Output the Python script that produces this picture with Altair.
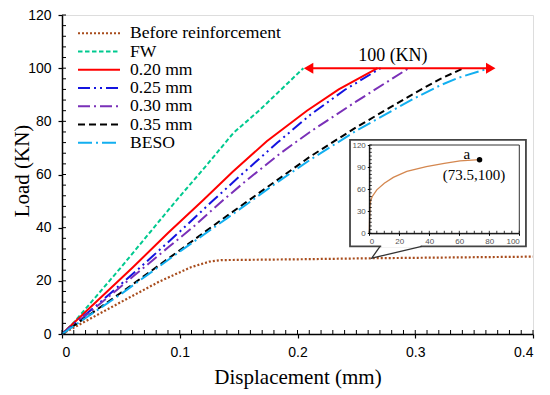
import altair as alt
import pandas as pd

W, H = 471, 319
SERIF = "Liberation Serif"
SANS = "Liberation Sans"

# ---- series data (displacement mm, load KN) ----
names = ["Before reinforcement", "FW", "0.20 mm", "0.25 mm", "0.30 mm", "0.35 mm", "BESO"]
colors = ["#a84c1c", "#00c98f", "#ff0000", "#1414e0", "#7a30b8", "#000000", "#12aff0"]
dashes = [[2, 2], [4.5, 2.5], None, [12, 4, 2, 4, 2, 4], [12, 4, 2, 4], [7, 4], [14, 4, 2, 4]]

before_x = [0, 0.03, 0.055, 0.083, 0.11, 0.125, 0.135, 0.2, 0.264, 0.4]
before_y = [0, 7.2, 13.2, 19.8, 25.2, 27.2, 27.8, 28.1, 28.5, 29.1]
fw_x = [0, 0.01, 0.05, 0.0974, 0.12, 0.1455, 0.168, 0.185, 0.205]
fw_y = [0, 4.3, 25, 50.4, 62, 75.6, 84.3, 91.5, 100]
r020_x = [0, 0.03, 0.06, 0.09, 0.12, 0.145, 0.1739, 0.208, 0.235, 0.268]
r020_y = [0, 12.5, 25, 38, 50.4, 61, 72.5, 84, 92, 100]
r025_x = [0, 0.03, 0.065, 0.1, 0.1287, 0.155, 0.183, 0.211, 0.24, 0.2706]
r025_y = [0, 11, 24.5, 38.5, 50.4, 61, 72, 82.5, 91.8, 100]
r030_x = [0, 0.03, 0.06, 0.09, 0.1115, 0.137, 0.157, 0.1855, 0.2106, 0.25, 0.2945]
r030_y = [0, 10.5, 21.5, 32.5, 40.3, 50.4, 57.9, 68, 76, 87.5, 100]
r035_x = [0, 0.05, 0.1, 0.134, 0.1827, 0.2106, 0.25, 0.299, 0.321, 0.341]
r035_y = [0, 15.5, 31.5, 42.5, 57.9, 66.7, 77.8, 90.5, 95.9, 100]
beso_x = [0, 0.05, 0.1, 0.14, 0.1855, 0.2106, 0.25, 0.299, 0.321, 0.336, 0.363]
beso_y = [0, 15, 31, 43.5, 57.9, 65.5, 76.5, 88.6, 93.5, 96.3, 100]

series_x = [before_x, fw_x, r020_x, r025_x, r030_x, r035_x, beso_x]
series_y = [before_y, fw_y, r020_y, r025_y, r030_y, r035_y, beso_y]

# axis ticks
x_major = [0, 0.1, 0.2, 0.3, 0.4]
y_major = [0, 20, 40, 60, 80, 100, 120]
x_minor = [round(i * 0.01, 2) for i in range(0, 41)]
y_minor = list(range(0, 121, 4))

# annotation: 100 KN arrow
arrow_y = 100
arrow_x = [0.2094, 0.3641]
arrow_label = "100 (KN)"
arrow_label_x, arrow_label_y = 0.281, 104.6

# inset callout box (in main data units)
box_x = [0.2446, 0.394]
box_y = [33.0, 73.0]
pointer_x = [0.2701, 0.263, 0.3055]
pointer_y = [33.0, 28.5, 33.0]

# inset data
inset_x = [0, 0.2, 0.5, 1, 2, 5, 10, 16, 25, 38, 50, 60.5, 73.5]
inset_y = [0, 20, 38, 45, 50, 59, 68, 76, 84, 90.5, 95, 98.5, 100]
inset_pt = (73.5, 100)
inset_xticks = [0, 20, 40, 60, 80, 100]
inset_yticks = [0, 30, 60, 90, 120]
inset_xminor = list(range(0, 101, 5))
inset_yminor = list(range(0, 121, 5))
INSET_XR = [307.3, 457.3]
INSET_YR = [218.3, 130.0]

xscale = alt.Scale(domain=[0, 0.4], nice=False, zero=False)
yscale = alt.Scale(domain=[0, 120], nice=False, zero=False)

x_axis = alt.Axis(values=x_major, format=".1~f", title="Displacement (mm)", tickSize=4,
                  labelFont=SANS, labelFontSize=14, labelPadding=7, labelColor="black",
                  titleFont=SERIF, titleFontSize=21, titleFontWeight="normal", titleColor="black",
                  titleX=W / 2, titleY=43, titleBaseline="middle", domainColor="black",
                  domainWidth=1.5, tickColor="black", tickWidth=1.2, grid=False)
y_axis = alt.Axis(values=y_major, title="Load (KN)", tickSize=4,
                  labelFont=SANS, labelFontSize=14, labelPadding=7, labelColor="black",
                  titleFont=SERIF, titleFontSize=21, titleFontWeight="normal", titleColor="black",
                  titleX=-40, titleY=H / 2 - 4, titleBaseline="middle", titleAngle=-90,
                  domainColor="black", domainWidth=1.5, tickColor="black", tickWidth=1.2, grid=False)

main_layers = []
for i, (nm, c, d) in enumerate(zip(names, colors, dashes)):
    df = pd.DataFrame({"x": series_x[i], "y": series_y[i]})
    kw = dict(color=c, strokeWidth=2 if i != 0 else 2.2)
    if d is not None:
        kw["strokeDash"] = d
    if i == 0:
        enc = dict(x=alt.X("x:Q", scale=xscale, axis=x_axis), y=alt.Y("y:Q", scale=yscale, axis=y_axis))
    else:
        enc = dict(x=alt.X("x:Q", scale=xscale), y=alt.Y("y:Q", scale=yscale))
    main_layers.append(alt.Chart(df).mark_line(**kw).encode(**enc))

# inward ticks
main_layers.append(alt.Chart(pd.DataFrame({"x": x_minor})).mark_rule(color="black", strokeWidth=1).encode(
    x=alt.X("x:Q", scale=xscale), y=alt.value(H), y2=alt.value(H - 4)))
main_layers.append(alt.Chart(pd.DataFrame({"y": y_minor})).mark_rule(color="black", strokeWidth=1).encode(
    y=alt.Y("y:Q", scale=yscale), x=alt.value(0), x2=alt.value(4)))

# callout box
box_df = pd.DataFrame({"x": [box_x[0]], "x2": [box_x[1]], "y": [box_y[0]], "y2": [box_y[1]]})
main_layers.append(alt.Chart(box_df).mark_rect(fill="white", stroke="#444444", strokeWidth=1.8).encode(
    x=alt.X("x:Q", scale=xscale), x2="x2:Q", y=alt.Y("y:Q", scale=yscale), y2="y2:Q"))
gap_df = pd.DataFrame({"x": [pointer_x[0] + 0.001], "x2": [pointer_x[2] - 0.001], "y": [box_y[0]]})
main_layers.append(alt.Chart(gap_df).mark_rule(color="white", strokeWidth=3).encode(
    x=alt.X("x:Q", scale=xscale), x2="x2:Q", y=alt.Y("y:Q", scale=yscale)))
ptr_df = pd.DataFrame({"x": pointer_x, "y": pointer_y, "k": [0, 1, 2]})
main_layers.append(alt.Chart(ptr_df).mark_line(color="#333333", strokeWidth=1.3).encode(
    x=alt.X("x:Q", scale=xscale), y=alt.Y("y:Q", scale=yscale), order="k:Q"))

# arrow
arr_df = pd.DataFrame({"x": [arrow_x[0]], "x2": [arrow_x[1]], "y": [arrow_y]})
main_layers.append(alt.Chart(arr_df).mark_rule(color="#ff0000", strokeWidth=2).encode(
    x=alt.X("x:Q", scale=xscale), x2="x2:Q", y=alt.Y("y:Q", scale=yscale)))
head_df = pd.DataFrame({"x": arrow_x, "y": [arrow_y, arrow_y]})
for j, shp in enumerate(["triangle-left", "triangle-right"]):
    main_layers.append(alt.Chart(head_df.iloc[[j]]).mark_point(shape=shp, filled=True, color="#ff0000",
                                                               size=120, opacity=1).encode(
        x=alt.X("x:Q", scale=xscale), y=alt.Y("y:Q", scale=yscale)))
lab_df = pd.DataFrame({"x": [arrow_label_x], "y": [arrow_label_y], "t": [arrow_label]})
main_layers.append(alt.Chart(lab_df).mark_text(font=SERIF, fontSize=18, color="black", baseline="middle").encode(
    x=alt.X("x:Q", scale=xscale), y=alt.Y("y:Q", scale=yscale), text="t:N"))

# manual legend
one = pd.DataFrame({"a": [1]})
for i, (nm, c, d) in enumerate(zip(names, colors, dashes)):
    yy = 18.3 + i * 18.25
    kw = dict(color=c, strokeWidth=2)
    if d is not None:
        kw["strokeDash"] = d
    main_layers.append(alt.Chart(one).mark_rule(**kw).encode(
        x=alt.value(16), x2=alt.value(58), y=alt.value(yy)))
    main_layers.append(alt.Chart(one).mark_text(text=nm, align="left", baseline="middle", font=SERIF,
                                                fontSize=17.6, color="black").encode(
        x=alt.value(68), y=alt.value(yy)))

main = alt.layer(*main_layers)

# ---- inset ----
ixs = alt.Scale(domain=[0, 100], range=INSET_XR, nice=False, zero=False)
iys = alt.Scale(domain=[0, 120], range=INSET_YR, nice=False, zero=False)
ix_axis = alt.Axis(values=inset_xticks, orient="bottom", offset=-(H - INSET_YR[0]), title=None,
                   labelFont=SANS, labelFontSize=8, labelColor="#555555", labelPadding=2, tickSize=2,
                   domainColor="black", domainWidth=1, tickColor="black", grid=False, zindex=2)
iy_axis = alt.Axis(values=inset_yticks, orient="left", offset=-INSET_XR[0], title=None,
                   labelFont=SANS, labelFontSize=8, labelColor="#555555", labelPadding=2, tickSize=2,
                   domainColor="black", domainWidth=1, tickColor="black", grid=False, zindex=2)

inset_layers = []
idf = pd.DataFrame({"x": inset_x, "y": inset_y})
inset_layers.append(alt.Chart(idf).mark_line(color="#d4874f", strokeWidth=1.3).encode(
    x=alt.X("x:Q", scale=ixs, axis=ix_axis), y=alt.Y("y:Q", scale=iys, axis=iy_axis)))
frame_df = pd.DataFrame({"x": [0], "x2": [100], "y": [0], "y2": [120]})
inset_layers.append(alt.Chart(frame_df).mark_rect(fillOpacity=0, stroke="#333333", strokeWidth=1).encode(
    x=alt.X("x:Q", scale=ixs), x2="x2:Q", y=alt.Y("y:Q", scale=iys), y2="y2:Q"))
inset_layers.append(alt.Chart(pd.DataFrame({"x": inset_xminor})).mark_rule(color="black", strokeWidth=0.8).encode(
    x=alt.X("x:Q", scale=ixs), y=alt.value(INSET_YR[0]), y2=alt.value(INSET_YR[0] - 2.5)))
inset_layers.append(alt.Chart(pd.DataFrame({"y": inset_yminor})).mark_rule(color="black", strokeWidth=0.8).encode(
    y=alt.Y("y:Q", scale=iys), x=alt.value(INSET_XR[0]), x2=alt.value(INSET_XR[0] + 2.5)))
pt_df = pd.DataFrame({"x": [inset_pt[0]], "y": [inset_pt[1]]})
inset_layers.append(alt.Chart(pt_df).mark_circle(color="black", size=30, opacity=1).encode(
    x=alt.X("x:Q", scale=ixs), y=alt.Y("y:Q", scale=iys)))
itxt = pd.DataFrame({"x": [65, 69.8], "y": [107.8, 79.2], "t": ["a", "(73.5,100)"]})
inset_layers.append(alt.Chart(itxt).mark_text(font=SERIF, fontSize=15, color="black", baseline="middle").encode(
    x=alt.X("x:Q", scale=ixs), y=alt.Y("y:Q", scale=iys), text="t:N"))

inset = alt.layer(*inset_layers)

chart = alt.layer(main, inset).resolve_scale(x="independent", y="independent").properties(
    width=W, height=H,
    padding={"left": 54, "top": 7, "right": 5, "bottom": 55},
    autosize=alt.AutoSizeParams(type="none"),
).configure_view(stroke="black", strokeWidth=1.5).configure(background="white")

chart.save("out.html", embed_options={"renderer": "svg", "actions": False})
